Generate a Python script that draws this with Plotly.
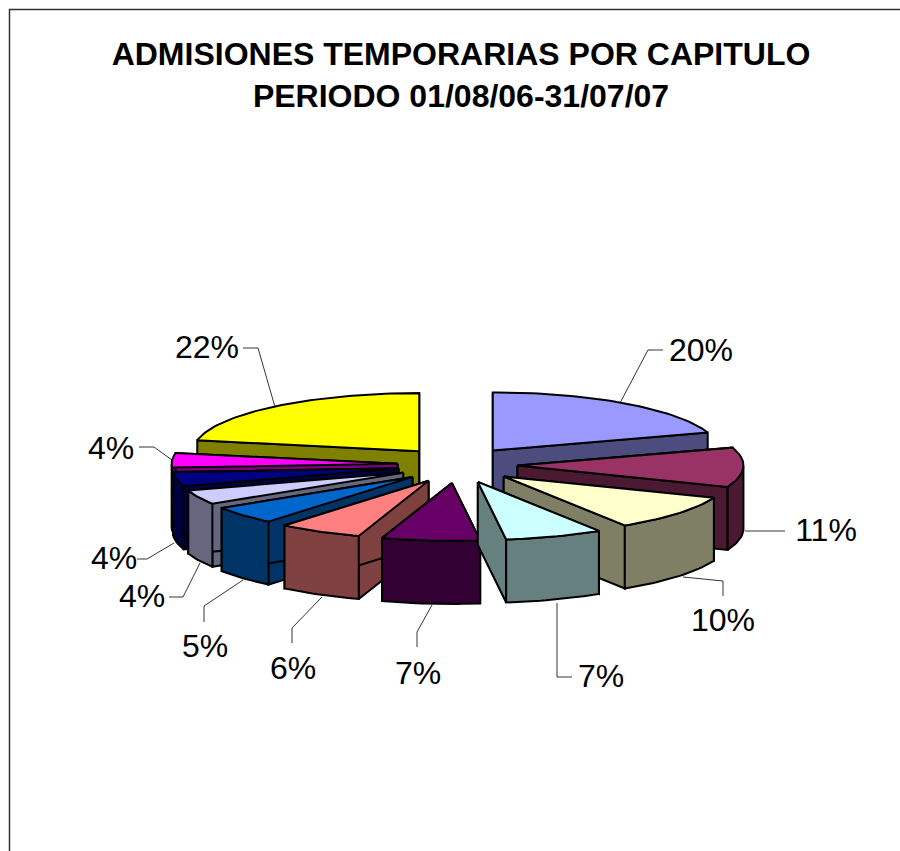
import math
import plotly.graph_objects as go

# ---- data ----
values = [20, 11, 10, 7, 7, 6, 5, 4, 4, 4, 22]
top_colors = ["#9999FF", "#993366", "#FFFFCC", "#CCFFFF", "#660066", "#FF8080",
              "#0066CC", "#CCCCFF", "#000080", "#FF00FF", "#FFFF00"]
title_lines = ["ADMISIONES TEMPORARIAS POR CAPITULO", "PERIODO 01/08/06-31/07/07"]

# ---- projection of the tilted, exploded pie (style / layout, not data) ----
CX, CY = 457.5, 465
RX, RY = 226, 58
EXPLODE_X, EXPLODE_Y = 60, 18
DEPTH = 63
# back-to-front painting order of the slices
draw_order = [10, 9, 8, 7, 6, 5, 4, 0, 1, 2, 3]
# leader line vertices and label anchors per slice
leaders = [
    [(620, 403), (648, 350), (663, 350)],
    [(745, 531), (785, 531)],
    [(683, 577), (723, 581), (723, 596)],
    [(557, 603), (557, 677), (572, 677)],
    [(432, 605), (417, 632), (417, 647)],
    [(322, 597), (292, 628), (292, 643)],
    [(243, 580), (204, 606), (204, 622)],
    [(200, 563), (183, 597), (169, 597)],
    [(174, 543), (147, 559), (137, 559)],
    [(172, 460), (154, 447), (139, 447)],
    [(275, 407), (258, 348), (243, 348)],
]
label_pos = [(701, 353), (826, 533), (723, 623), (601, 679), (418, 676), (293, 671),
             (205, 649), (142, 599), (114, 561), (111, 451), (207, 350)]


def darker(hex_color):
    r, g, b = (int(hex_color[i:i + 2], 16) for i in (1, 3, 5))
    return f"rgb({r // 2},{g // 2},{b // 2})"


fig = go.Figure()


def poly(xs, ys, fill):
    fig.add_trace(go.Scatter(
        x=xs + xs[:1], y=ys + ys[:1], mode="lines", fill="toself", fillcolor=fill,
        line=dict(color="black", width=2), hoverinfo="skip", showlegend=False))


total = sum(values)
starts = []
acc = 0
for v in values:
    starts.append(acc)
    acc += v

for i in draw_order:
    a0 = starts[i] / total * 2 * math.pi
    a1 = (starts[i] + values[i]) / total * 2 * math.pi
    mid = (a0 + a1) / 2
    ax = CX + EXPLODE_X * math.sin(mid)
    ay = CY - EXPLODE_Y * math.cos(mid)
    n = max(4, int((a1 - a0) * 40))
    angles = [a0 + (a1 - a0) * k / n for k in range(n + 1)]
    rim_x = [ax + RX * math.sin(t) for t in angles]
    rim_y = [ay - RY * math.cos(t) for t in angles]
    wall = darker(top_colors[i])
    # two cut faces
    poly([ax, rim_x[0], rim_x[0], ax], [ay, rim_y[0], rim_y[0] + DEPTH, ay + DEPTH], wall)
    poly([ax, rim_x[-1], rim_x[-1], ax], [ay, rim_y[-1], rim_y[-1] + DEPTH, ay + DEPTH], wall)
    # outer curved wall (only the part that faces the viewer)
    front = [(x, y) for x, y, t in zip(rim_x, rim_y, angles)
             if math.pi / 2 <= t <= 3 * math.pi / 2]
    if len(front) >= 2:
        fx = [p[0] for p in front]
        fy = [p[1] for p in front]
        poly(fx + fx[::-1], fy + [y + DEPTH for y in fy[::-1]], wall)
    # top face
    poly([ax] + rim_x, [ay] + rim_y, top_colors[i])

# leader lines and percentage labels
for pts in leaders:
    fig.add_trace(go.Scatter(
        x=[p[0] for p in pts], y=[p[1] for p in pts], mode="lines",
        line=dict(color="black", width=0.8), hoverinfo="skip", showlegend=False))
fig.add_trace(go.Scatter(
    x=[p[0] for p in label_pos], y=[p[1] for p in label_pos],
    text=[f"{v}%" for v in values], mode="text", textposition="middle center",
    textfont=dict(family="Liberation Sans", size=32, color="black"),
    hoverinfo="skip", showlegend=False))

fig.update_layout(
    width=900, height=851, margin=dict(l=0, r=0, t=0, b=0),
    paper_bgcolor="white", plot_bgcolor="white", showlegend=False,
    title=dict(text="<br>".join(title_lines), x=461 / 900, xanchor="center",
               y=1 - 65 / 851, yanchor="top",
               font=dict(family="Liberation Sans", size=32, color="black", weight="bold")),
    xaxis=dict(range=[0, 900], visible=False, fixedrange=True),
    yaxis=dict(range=[851, 0], visible=False, fixedrange=True),
    shapes=[dict(type="path", path="M 9.5 860 L 9.5 9.5 L 910 9.5", xref="x", yref="y",
                 line=dict(color="#333333", width=1.5))],
)
fig.write_html("out.html", post_script="document.body.style.margin='0';",
               config={"displayModeBar": False})
